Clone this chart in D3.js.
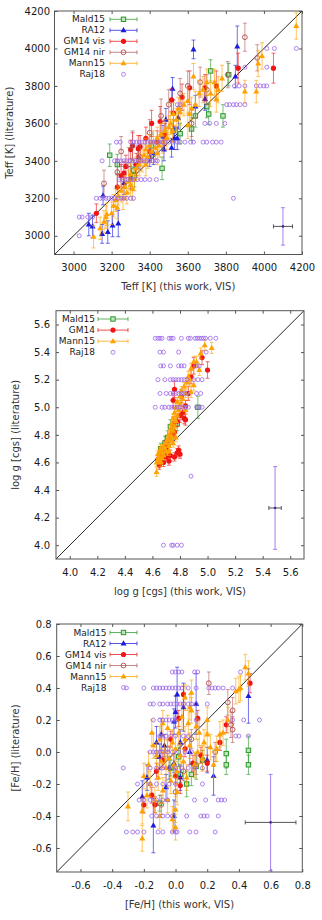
<!DOCTYPE html>
<html lang="en">
<head>
<meta charset="UTF-8">
<title>Teff, log g and [Fe/H] vs literature</title>
<script src="https://d3js.org/d3.v7.min.js"></script>
<style>
  body { margin: 0; padding: 0; background: white; }
  svg { display: block; font-family: "DejaVu Sans", sans-serif; }
</style>
</head>
<body>
<div id="chart"></div>
<script>
// ---------- Teff panel: [this work, literature, lit. error] ----------
const teffTicks = [3000, 3200, 3400, 3600, 3800, 4000, 4200];
const teffMald15 = [[3190,3430,60],[3230,3380,55],[3315,3350,50],[3320,3320,60],[3410,3480,60],[3465,3360,60],
  [3525,3560,60],[3560,3545,55],[3620,3570,60],[3640,3640,60],[3700,3690,60],[3710,3650,55],[3785,3640,60],
  [3815,3860,60],[3720,3880,60]];
const teffRA12 = [[3080,3060,60],[3100,3050,60],[3150,3010,50],[3180,3020,60],[3205,3055,60],[3235,3065,70],
  [3155,3215,50],[3265,3280,60],[3300,3310,60],[3340,3420,60],[3400,3420,50],[3420,3440,60],[3475,3460,60],
  [3515,3470,50],[3470,3530,60],[3545,3520,60],[3530,3520,60],[3485,3620,60],[3550,3630,60],[3520,3785,60],
  [3640,3690,60],[3690,3730,60],[3850,3850,60],[3630,3995,50],[3860,4010,110]];
const teffGM14vis = [[3120,3120,50],[3230,3260,70],[3250,3320,60],[3265,3335,60],[3275,3370,60],[3300,3460,50],
  [3310,3480,70],[3330,3380,60],[3340,3465,70],[3350,3475,60],[3380,3520,60],[3400,3450,50],[3410,3600,70],
  [3440,3500,60],[3455,3610,80],[3480,3540,60],[3515,3725,60],[3525,3655,70],[3570,3740,70],[3610,3790,90],
  [3690,3790,70],[3750,3800,80],[3865,3895,80],[4050,3895,80]];
const teffGM14nir = [[3160,3280,70],[3230,3340,70],[3250,3450,80],[3290,3380,90],[3310,3480,80],[3350,3420,70],
  [3400,3550,70],[3460,3640,90],[3500,3700,80],[3560,3760,80],[3600,3800,80],[3620,3600,70],[3665,3820,80],
  [3700,3780,80],[3810,3860,70],[3900,4060,75],[3965,3950,70]];
const teffMann15 = [[3105,2995,60],[3140,3040,60],[3160,3075,60],[3170,3100,60],[3175,3115,60],[3200,3120,60],
  [3210,3160,60],[3220,3190,60],[3230,3150,60],[3235,3215,50],[3250,3240,60],[3260,3200,60],[3270,3260,60],
  [3280,3230,60],[3290,3290,60],[3300,3270,60],[3300,3330,60],[3310,3250,60],[3320,3300,60],[3330,3360,60],
  [3345,3380,60],[3360,3400,60],[3370,3430,60],[3380,3460,60],[3380,3380,60],[3390,3420,60],[3400,3480,60],
  [3410,3450,60],[3420,3500,60],[3430,3470,60],[3440,3520,60],[3440,3440,60],[3450,3480,60],[3460,3540,60],
  [3470,3500,60],[3480,3560,60],[3490,3520,60],[3500,3580,60],[3510,3600,60],[3520,3560,60],[3525,3650,60],
  [3540,3620,60],[3550,3680,60],[3560,3660,70],[3580,3700,60],[3600,3720,70],[3600,3590,70],[3610,3650,60],
  [3620,3680,60],[3630,3850,70],[3640,3700,70],[3660,3760,70],[3680,3780,70],[3700,3820,70],[3720,3760,70],
  [3740,3820,70],[3750,3730,70],[3760,3780,70],[3780,3840,70],[3900,3770,60],[3960,3770,60],[3970,3920,70],
  [3990,3960,70],[4170,4120,70]];
const teffRaj18 = [[3030,3000],
  [3030,3100],[3045,3100],[3075,3100],[3100,3100],
  [3120,3200],[3140,3200],[3155,3200],[3170,3200],[3185,3200],[3200,3200],[3215,3200],[3235,3200],[3250,3200],
  [3265,3200],[3280,3200],[3300,3200],[3315,3200],[3840,3200],
  [3240,3300],[3255,3300],[3270,3300],[3285,3300],[3300,3300],[3315,3300],[3335,3300],[3355,3300],[3375,3300],
  [3400,3300],[3435,3300],
  [3150,3400],[3215,3400],[3230,3400],[3250,3400],[3265,3400],[3280,3400],[3295,3400],[3310,3400],[3325,3400],
  [3340,3400],[3355,3400],[3370,3400],[3385,3400],[3400,3400],[3415,3400],[3430,3400],[3440,3400],
  [3225,3500],[3245,3500],[3300,3500],[3315,3500],[3330,3500],[3345,3500],[3360,3500],[3375,3500],[3390,3500],
  [3405,3500],[3420,3500],[3435,3500],[3450,3500],[3465,3500],[3480,3500],[3500,3500],[3520,3500],[3545,3500],
  [3560,3500],[3585,3500],[3615,3500],[3630,3500],[3680,3500],[3700,3500],[3730,3500],[3750,3500],[3775,3500],
  [3690,3600],[3715,3600],[3750,3600],[3795,3600],
  [3545,3700],[3560,3700],[3805,3700],[3820,3700],[3840,3700],[3855,3700],[3875,3700],[3900,3700],
  [3845,3800],[3870,3800],[3900,3800],[3960,3800],[3980,3800],[4000,3800],[4015,3800],
  [3900,3900],[4015,3900],
  [4015,4000],[4055,4000],[4170,4000]];
const teffTypical = [4100, 3050, 50, 100]; // x, y, x error, y error

// ---------- log g panel ----------
const loggTicks = [4.0, 4.2, 4.4, 4.6, 4.8, 5.0, 5.2, 5.4, 5.6];
const loggMald15 = [[4.66,4.70,0.04],[4.68,4.66,0.04],[4.69,4.74,0.05],[4.71,4.78,0.05],[4.73,4.86,0.05],
  [4.75,4.82,0.05],[4.78,4.88,0.05],[4.93,5.00,0.08]];
const loggGM14 = [[4.64,4.62,0.03],[4.65,4.58,0.03],[4.66,4.65,0.03],[4.68,4.60,0.03],[4.69,4.72,0.04],
  [4.70,4.64,0.03],[4.70,4.70,0.03],[4.72,4.61,0.03],[4.72,4.76,0.04],[4.73,4.65,0.04],[4.74,4.80,0.04],
  [4.75,4.88,0.05],[4.75,5.05,0.05],[4.76,4.64,0.03],[4.76,4.82,0.04],[4.76,5.13,0.06],[4.78,4.67,0.03],
  [4.78,4.90,0.04],[4.79,4.69,0.03],[4.80,4.66,0.03],[4.80,4.94,0.05],[4.81,5.08,0.05],[4.82,4.96,0.05],
  [4.83,4.92,0.04],[4.84,4.91,0.04],[4.84,5.01,0.04],[4.86,5.10,0.05],[4.88,5.22,0.05],[4.90,5.30,0.06],
  [4.96,5.36,0.05],[5.00,5.27,0.06]];
const loggMann15 = [[4.63,4.53,0.03],[4.63,4.60,0.03],[4.64,4.62,0.03],[4.64,4.66,0.03],[4.65,4.64,0.03],
  [4.65,4.68,0.03],[4.66,4.60,0.03],[4.66,4.70,0.03],[4.67,4.63,0.03],[4.67,4.67,0.03],[4.68,4.72,0.03],
  [4.68,4.65,0.03],[4.69,4.70,0.03],[4.70,4.74,0.03],[4.70,4.68,0.03],[4.71,4.77,0.03],[4.72,4.72,0.03],
  [4.72,4.68,0.03],[4.72,4.80,0.03],[4.73,4.76,0.03],[4.73,4.84,0.03],[4.74,4.79,0.03],[4.74,4.88,0.03],
  [4.75,4.74,0.03],[4.75,4.83,0.03],[4.75,4.92,0.03],[4.76,4.86,0.03],[4.76,4.96,0.03],[4.77,4.78,0.03],
  [4.77,4.90,0.03],[4.77,5.00,0.03],[4.78,4.94,0.03],[4.78,5.04,0.03],[4.79,4.98,0.03],[4.80,5.08,0.03],
  [4.80,5.02,0.03],[4.81,5.12,0.03],[4.82,5.06,0.03],[4.83,5.15,0.03],[4.84,4.98,0.03],[4.84,5.10,0.03],
  [4.85,5.18,0.03],[4.86,5.22,0.04],[4.87,5.20,0.04],[4.88,5.11,0.04],[4.88,5.28,0.04],[4.90,5.16,0.04],
  [4.90,5.33,0.04],[4.92,5.33,0.04],[4.94,5.27,0.04],[4.95,5.39,0.04],[4.98,5.45,0.04],[5.03,5.43,0.04]];
const loggRaj18 = [[4.62,5.5],[4.64,5.5],[4.655,5.5],[4.67,5.5],[4.72,5.5],[4.735,5.5],[4.75,5.5],[4.81,5.5],
  [4.86,5.5],[4.875,5.5],[4.91,5.5],[4.925,5.5],[4.94,5.5],[4.955,5.5],[4.97,5.5],[4.985,5.5],[5.02,5.5],[5.06,5.5],
  [4.655,5.4],[4.68,5.4],[4.79,5.4],[4.99,5.4],
  [4.66,5.3],[4.68,5.3],[4.73,5.3],[4.79,5.3],[4.81,5.3],[4.83,5.3],[4.92,5.3],[4.94,5.3],
  [4.64,5.2],[4.69,5.2],[4.73,5.2],[4.75,5.2],[4.77,5.2],[4.79,5.2],[4.81,5.2],[4.83,5.2],[4.85,5.2],[4.90,5.2],
  [4.93,5.2],[4.96,5.2],
  [4.655,5.1],[4.70,5.1],[4.73,5.1],[4.75,5.1],[4.77,5.1],[4.79,5.1],[4.81,5.1],[4.83,5.1],[4.85,5.1],[4.92,5.1],
  [4.95,5.1],
  [4.62,5.0],[4.67,5.0],[4.69,5.0],[4.72,5.0],[4.74,5.0],[4.76,5.0],[4.78,5.0],[4.80,5.0],[4.82,5.0],[4.84,5.0],
  [4.86,5.0],[4.92,5.0],[4.94,5.0],[4.96,5.0],
  [4.88,4.5],
  [4.68,4.0],[4.74,4.0],[4.75,4.0],[4.78,4.0],[4.81,4.0]];
const loggTypical = [5.49, 4.27, 0.045, 0.30];

// ---------- [Fe/H] panel ----------
const fehTicks = [-0.6, -0.4, -0.2, 0.0, 0.2, 0.4, 0.6, 0.8];
const fehMald15 = [[-0.10,-0.32,0.05],[-0.03,-0.10,0.05],[0.02,-0.03,0.06],[0.03,-0.14,0.05],[0.07,-0.20,0.08],
  [0.10,-0.14,0.07],[0.13,-0.09,0.08],[0.17,-0.05,0.06],[0.32,-0.01,0.09],[0.32,-0.08,0.06],[0.46,0.01,0.09],
  [0.46,-0.08,0.06]];
const fehRA12 = [[0.01,0.36,0.17],[0.46,0.35,0.17],[0.00,0.25,0.10],[-0.01,0.19,0.08],[-0.09,0.11,0.10],
  [0.03,0.06,0.08],[-0.18,-0.16,0.08],[-0.21,-0.28,0.10],[-0.14,-0.46,0.17],[-0.01,-0.40,0.10],[0.03,-0.16,0.08],
  [0.20,-0.05,0.08],[0.24,-0.15,0.12],[-0.01,-0.07,0.06],[-0.10,-0.03,0.08],[-0.06,-0.22,0.08],[0.13,0.30,0.19],
  [0.05,0.28,0.15],[-0.12,0.06,0.10],[-0.04,-0.10,0.07],[0.09,0.00,0.08],[-0.07,0.04,0.07]];
const fehGM14vis = [[0.05,0.36,0.05],[0.02,0.21,0.05],[0.14,0.21,0.05],[0.32,0.17,0.05],[0.47,0.43,0.06],
  [-0.20,-0.33,0.05],[-0.13,-0.33,0.05],[-0.15,-0.27,0.05],[0.00,-0.15,0.05],[0.03,-0.21,0.05],[0.11,-0.07,0.05],
  [0.20,-0.07,0.05],[-0.08,-0.05,0.05],[0.06,0.02,0.05],[-0.03,0.08,0.05],[0.16,-0.02,0.05],[-0.12,-0.12,0.05],
  [0.28,0.06,0.05]];
const fehGM14nir = [[0.21,0.43,0.07],[0.36,0.26,0.08],[0.35,0.17,0.08],[0.36,0.14,0.08],[0.33,0.31,0.08],
  [0.13,-0.08,0.06],[-0.09,-0.33,0.06],[0.05,-0.12,0.06],[0.25,0.00,0.06],[-0.05,0.02,0.06],[0.10,0.08,0.06],
  [0.00,-0.25,0.06]];
const fehMann15 = [[-0.30,-0.34,0.09],[-0.21,-0.54,0.08],[-0.21,-0.37,0.08],[-0.20,-0.15,0.08],[-0.18,-0.27,0.08],
  [-0.17,-0.08,0.08],[-0.16,-0.20,0.08],[-0.15,0.12,0.08],[-0.14,0.04,0.08],[-0.13,-0.30,0.08],[-0.12,-0.02,0.08],
  [-0.11,-0.16,0.08],[-0.10,0.08,0.08],[-0.10,-0.40,0.08],[-0.09,-0.06,0.08],[-0.08,-0.24,0.08],[-0.08,0.18,0.08],
  [-0.07,0.00,0.08],[-0.06,-0.10,0.08],[-0.05,0.15,0.08],[-0.05,-0.30,0.08],[-0.04,-0.04,0.08],[-0.03,-0.18,0.08],
  [-0.02,0.06,0.08],[-0.02,-0.42,0.08],[-0.01,-0.08,0.08],[0.00,0.02,0.08],[0.00,-0.36,0.08],[0.00,-0.47,0.08],
  [0.01,-0.12,0.08],[0.01,-0.25,0.08],[0.02,0.12,0.08],[0.03,-0.02,0.08],[0.04,0.22,0.08],[0.05,-0.06,0.08],
  [0.06,0.08,0.08],[0.06,0.34,0.08],[0.07,-0.16,0.08],[0.08,0.18,0.08],[0.09,0.04,0.08],[0.09,0.28,0.08],
  [0.10,0.37,0.08],[0.10,0.26,0.08],[0.12,-0.08,0.08],[0.13,0.16,0.08],[0.14,0.00,0.08],[0.15,0.12,0.08],
  [0.17,-0.04,0.08],[0.18,0.06,0.08],[0.20,0.11,0.08],[0.20,0.20,0.08],[0.22,0.03,0.08],[0.24,-0.08,0.08],
  [0.26,0.02,0.08],[0.28,0.11,0.08],[0.30,0.12,0.08],[0.33,0.20,0.08],[0.38,0.38,0.08],[0.40,0.39,0.08],
  [0.41,0.40,0.08],[0.44,0.53,0.08],[0.46,0.49,0.08]];
const fehRaj18 = [[-0.02,0.5],[0.00,0.5],[0.02,0.5],[0.04,0.5],[0.12,0.5],[0.14,0.5],[0.41,0.5],
  [-0.31,0.4],[-0.20,0.4],[-0.14,0.4],[-0.12,0.4],[-0.10,0.4],[-0.08,0.4],[-0.06,0.4],[-0.04,0.4],[-0.02,0.4],
  [0.00,0.4],[0.02,0.4],[0.04,0.4],[0.08,0.4],[0.13,0.4],[0.21,0.4],[0.23,0.4],[0.25,0.4],[0.27,0.4],[0.30,0.4],[0.36,0.4],
  [-0.16,0.3],[-0.14,0.3],[-0.10,0.3],[-0.08,0.3],[-0.05,0.3],[-0.03,0.3],[-0.01,0.3],[0.01,0.3],[0.03,0.3],
  [0.05,0.3],[0.08,0.3],[0.10,0.3],[0.13,0.3],[0.20,0.3],
  [-0.14,0.2],[-0.10,0.2],[-0.08,0.2],[-0.06,0.2],[-0.04,0.2],[-0.02,0.2],[0.00,0.2],[0.13,0.2],[0.36,0.2],
  [0.43,0.2],[0.53,0.2],
  [-0.10,0.1],[-0.08,0.1],[-0.06,0.1],[-0.03,0.1],[0.00,0.1],[0.05,0.1],[0.08,0.1],[0.38,0.1],[0.40,0.1],[0.46,0.1],
  [-0.16,0.0],[-0.14,0.0],[-0.12,0.0],[-0.10,0.0],[-0.08,0.0],[-0.05,0.0],[-0.02,0.0],[0.02,0.0],[0.06,0.0],[0.10,0.0],
  [-0.33,-0.1],[-0.16,-0.1],[-0.12,-0.1],[-0.08,-0.1],[-0.04,-0.1],[0.00,-0.1],[0.04,-0.1],[0.08,-0.1],[0.12,-0.1],[0.17,-0.1],
  [-0.24,-0.2],[-0.16,-0.2],[-0.12,-0.2],[-0.08,-0.2],[-0.04,-0.2],[0.00,-0.2],[0.17,-0.2],
  [-0.23,-0.3],[-0.20,-0.3],[-0.16,-0.3],[-0.12,-0.3],[-0.08,-0.3],[-0.05,-0.3],[0.12,-0.3],[0.19,-0.3],
  [0.27,-0.3],[0.29,-0.3],[0.31,-0.3],
  [-0.15,-0.4],[-0.12,-0.4],[-0.08,-0.4],[-0.05,-0.4],[-0.02,-0.4],[0.07,-0.4],[0.16,-0.4],[0.18,-0.4],[0.20,-0.4],[0.27,-0.4],
  [-0.31,-0.5],[-0.27,-0.5],[-0.24,-0.5],[-0.20,-0.5],[-0.11,-0.5],[-0.08,-0.5],[-0.02,-0.5],[0.00,-0.5],[0.01,-0.5],
  [0.09,-0.5],[0.13,-0.5],[0.25,-0.5]];
const fehTypical = [0.60, -0.44, 0.16, 0.30];

// marker look for each catalogue
const styles = {
  "Mald15":   { color: "#2b9a2b", shape: "square" },
  "RA12":     { color: "#1c1ce0", shape: "tri" },
  "GM14 vis": { color: "#f01414", shape: "dot" },
  "GM14":     { color: "#f01414", shape: "dot" },
  "GM14 nir": { color: "#b65a5a", shape: "ring" },
  "Mann15":   { color: "#ffa200", shape: "tri" },
  "Raj18":    { color: "#9a66e8", shape: "small", noErr: true }
};

const fmt1 = d => d.toFixed(1);

const panels = [
  { id: 1, left: 54.5, right: 302, top: 11, bottom: 254.5,
    domain: [2900, 4200], ticks: teffTicks, fmt: d => String(d), yPad: 4.5, yLabelX: 9.5,
    xLabel: "Teff [K] (this work, VIS)", yLabel: "Teff [K] (literature)", typical: teffTypical,
    series: [["Mald15", teffMald15], ["RA12", teffRA12], ["GM14 vis", teffGM14vis],
             ["GM14 nir", teffGM14nir], ["Mann15", teffMann15], ["Raj18", teffRaj18]],
    legend: { textEnd: 105, x1: 110, x2: 137, y0: 19.3, dy: 11 } },
  { id: 2, left: 56, right: 304, top: 310.7, bottom: 559,
    domain: [3.9, 5.7], ticks: loggTicks, fmt: fmt1, yPad: 6, yLabelX: 15.5,
    xLabel: "log g [cgs] (this work, VIS)", yLabel: "log g [cgs] (literature)", typical: loggTypical,
    series: [["Mald15", loggMald15], ["GM14", loggGM14], ["Mann15", loggMann15], ["Raj18", loggRaj18]],
    legend: { textEnd: 95, x1: 98, x2: 128, y0: 319, dy: 11.1 } },
  { id: 3, left: 56.7, right: 302.3, top: 624, bottom: 872,
    domain: [-0.75, 0.8], ticks: fehTicks, fmt: fmt1, yPad: 5, yLabelX: 15,
    xLabel: "[Fe/H] (this work, VIS)", yLabel: "[Fe/H] (literature)", typical: fehTypical,
    series: [["Mald15", fehMald15], ["RA12", fehRA12], ["GM14 vis", fehGM14vis],
             ["GM14 nir", fehGM14nir], ["Mann15", fehMann15], ["Raj18", fehRaj18]],
    legend: { textEnd: 106.5, x1: 110, x2: 137, y0: 632.5, dy: 11 } }
];

const svg = d3.select("#chart").append("svg")
  .attr("width", 322).attr("height", 920);

panels.forEach(drawPanel);

function triPath(cx, cy) {
  return `M${cx},${cy - 3.3}L${cx + 3},${cy + 2}L${cx - 3},${cy + 2}Z`;
}

function addMarkers(g, pts, st) {
  // pts are already in pixels: [px, py]
  const sel = g.selectAll(null).data(pts);
  if (st.shape === "tri") {
    sel.join("path").attr("d", d => triPath(d[0], d[1])).attr("fill", st.color);
  } else if (st.shape === "square") {
    sel.join("rect").attr("x", d => d[0] - 2.2).attr("y", d => d[1] - 2.2)
      .attr("width", 4.4).attr("height", 4.4)
      .attr("fill", "#bfe3bf").attr("stroke", st.color).attr("stroke-width", 1);
  } else if (st.shape === "dot") {
    sel.join("circle").attr("cx", d => d[0]).attr("cy", d => d[1]).attr("r", 2.6).attr("fill", st.color);
  } else if (st.shape === "ring") {
    sel.join("circle").attr("cx", d => d[0]).attr("cy", d => d[1]).attr("r", 2.4)
      .attr("fill", "none").attr("stroke", st.color).attr("stroke-width", 1);
  } else {
    sel.join("circle").attr("cx", d => d[0]).attr("cy", d => d[1]).attr("r", 2)
      .attr("fill", "none").attr("stroke", st.color).attr("stroke-width", 0.8);
  }
}

function drawPanel(p) {
  const x = d3.scaleLinear().domain(p.domain).range([p.left, p.right]);
  const y = d3.scaleLinear().domain(p.domain).range([p.bottom, p.top]);
  const g = svg.append("g");

  svg.append("clipPath").attr("id", "clip" + p.id)
    .append("rect").attr("x", p.left).attr("y", p.top)
    .attr("width", p.right - p.left).attr("height", p.bottom - p.top);

  const tidy = s => {
    s.select(".domain").remove();
    s.attr("font-family", "DejaVu Sans").attr("font-size", 10);
    s.selectAll(".tick line").attr("stroke", "#555");
    s.selectAll(".tick text").attr("fill", "#1a1a1a");
  };

  g.append("g").attr("transform", `translate(0,${p.bottom})`)
    .call(d3.axisBottom(x).tickValues(p.ticks).tickFormat(p.fmt).tickSize(-3).tickPadding(9.5))
    .call(tidy);
  g.append("g").attr("transform", `translate(0,${p.top})`)
    .call(d3.axisTop(x).tickValues(p.ticks).tickFormat("").tickSize(-3))
    .call(tidy);
  g.append("g").attr("transform", `translate(${p.left},0)`)
    .call(d3.axisLeft(y).tickValues(p.ticks).tickFormat(p.fmt).tickSize(-3).tickPadding(p.yPad))
    .call(tidy);
  g.append("g").attr("transform", `translate(${p.right},0)`)
    .call(d3.axisRight(y).tickValues(p.ticks).tickFormat("").tickSize(-3))
    .call(tidy);

  // plot area
  const plot = g.append("g").attr("clip-path", `url(#clip${p.id})`);

  plot.append("line")
    .attr("x1", x(p.domain[0])).attr("y1", y(p.domain[0]))
    .attr("x2", x(p.domain[1])).attr("y2", y(p.domain[1]))
    .attr("stroke", "#111").attr("stroke-width", 0.9);

  p.series.forEach(([name, data]) => {
    const st = styles[name];
    const sg = plot.append("g");
    if (!st.noErr) {
      sg.append("g").attr("stroke", st.color).attr("stroke-opacity", 0.62)
        .attr("stroke-width", 1).attr("fill", "none")
        .selectAll("path").data(data).join("path")
        .attr("d", d => {
          const cx = x(d[0]), y1 = y(d[1] - d[2]), y2 = y(d[1] + d[2]);
          return `M${cx},${y1}V${y2}M${cx - 2},${y1}h4M${cx - 2},${y2}h4`;
        });
    }
    addMarkers(sg.append("g"), data.map(d => [x(d[0]), y(d[1])]), st);
  });

  // typical uncertainty cross
  const [tx, ty, txe, tye] = p.typical;
  const cross = plot.append("g").attr("fill", "none").attr("stroke-width", 1);
  cross.append("path")
    .attr("d", `M${x(tx)},${y(ty - tye)}V${y(ty + tye)}M${x(tx) - 2},${y(ty - tye)}h4M${x(tx) - 2},${y(ty + tye)}h4`)
    .attr("stroke", "#a77ff0");
  cross.append("path")
    .attr("d", `M${x(tx - txe)},${y(ty)}H${x(tx + txe)}M${x(tx - txe)},${y(ty) - 2}v4M${x(tx + txe)},${y(ty) - 2}v4`)
    .attr("stroke", "#555");
  plot.append("circle").attr("cx", x(tx)).attr("cy", y(ty)).attr("r", 1.3).attr("fill", "#4b2a8a");

  // frame
  g.append("rect").attr("x", p.left).attr("y", p.top)
    .attr("width", p.right - p.left).attr("height", p.bottom - p.top)
    .attr("fill", "none").attr("stroke", "#555").attr("stroke-width", 1);

  // axis titles
  g.append("text").attr("x", (p.left + p.right) / 2).attr("y", p.bottom + 35.5)
    .attr("text-anchor", "middle").attr("font-size", 10).attr("fill", "#333")
    .text(p.xLabel);
  g.append("text")
    .attr("transform", `translate(${p.yLabelX},${(p.top + p.bottom) / 2}) rotate(-90)`)
    .attr("text-anchor", "middle").attr("dy", "0.35em").attr("font-size", 10).attr("fill", "#333")
    .text(p.yLabel);

  // legend
  const L = p.legend;
  p.series.forEach(([name], i) => {
    const st = styles[name];
    const ly = L.y0 + i * L.dy;
    g.append("text").attr("x", L.textEnd).attr("y", ly).attr("dy", "0.35em")
      .attr("text-anchor", "end").attr("font-size", 9).attr("fill", "#1a1a1a").text(name);
    if (!st.noErr) {
      g.append("path")
        .attr("d", `M${L.x1},${ly}H${L.x2}M${L.x1},${ly - 2}v4M${L.x2},${ly - 2}v4`)
        .attr("stroke", st.color).attr("stroke-opacity", 0.75).attr("fill", "none");
    }
    addMarkers(g.append("g"), [[(L.x1 + L.x2) / 2, ly]], st);
  });
}
</script>
</body>
</html>
